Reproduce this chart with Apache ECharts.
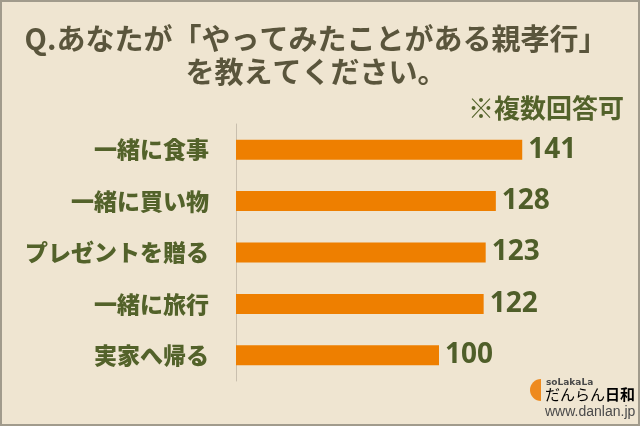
<!DOCTYPE html>
<html><head><meta charset="utf-8">
<script src="https://cdn.jsdelivr.net/npm/echarts@6/dist/echarts.min.js"></script>
<style>html,body{margin:0;padding:0;background:#EFE5D1;}#c{width:640px;height:426px;}</style>
</head><body><div id="c"></div>
<script>
const categories = ['一緒に食事', '一緒に買い物', 'プレゼントを贈る', '一緒に旅行', '実家へ帰る'];
const values = [141, 128, 123, 122, 100];
const titleText = 'Q.あなたが「やってみたことがある親孝行」\nを教えてください。';
const noteText = '※複数回答可';

const JP = '"Noto Sans CJK JP", "Noto Sans", sans-serif';
const chart = echarts.init(document.getElementById('c'), null, {renderer: 'canvas'});
chart.setOption({
  backgroundColor: '#EFE5D1',
  animation: false,
  title: [{
    text: titleText,
    left: 311, top: 17, textAlign: 'center',
    textStyle: {fontFamily: JP, fontSize: 29, fontWeight: 'bold', color: '#5a553c', lineHeight: 33}
  }, {
    text: noteText,
    right: 11, top: 90,
    textStyle: {fontFamily: JP, fontSize: 26, fontWeight: 'bold', color: '#53622a'}
  }],
  grid: {left: 236, top: 124, bottom: 45, width: 304.5},
  xAxis: {type: 'value', min: 0, max: 150, show: false},
  yAxis: {
    type: 'category', data: categories, inverse: true,
    axisLine: {lineStyle: {color: '#c9bfae', width: 1}},
    axisTick: {inside: true, length: 9, lineStyle: {color: '#c9bfae'}},
    axisLabel: {fontFamily: JP, fontSize: 23, fontWeight: 900, color: '#53622a', margin: 27}
  },
  series: [{
    type: 'bar', data: values, barWidth: 20,
    itemStyle: {color: '#EE7F00'},
    label: {show: true, position: 'right', distance: 6,
      fontFamily: '"Noto Sans", sans-serif', fontSize: 28, fontWeight: 'bold', color: '#4f5e29'}
  }],
  graphic: [
    {type: 'rect', shape: {x: 1, y: 1, width: 638, height: 424}, style: {fill: 'none', stroke: '#a19b8c', lineWidth: 2}, silent: true},
    {type: 'sector', shape: {cx: 541, cy: 390, r: 11, startAngle: Math.PI / 2, endAngle: Math.PI * 1.5}, style: {fill: '#EE8A1E'}},
    {type: 'text', left: 546, top: 378, style: {text: 'soLakaLa', font: 'bold 9px "DejaVu Sans", sans-serif', fill: '#4a4a4a'}},
    {type: 'text', left: 545, top: 387, style: {text: '{a|だんらん}{b|日和}', rich: {
      a: {fontFamily: JP, fontSize: 15, color: '#4a4a4a'},
      b: {fontFamily: JP, fontSize: 15, color: '#EE8A1E', fontWeight: 'bold'}}}},
    {type: 'text', left: 545, top: 405, style: {text: 'www.danlan.jp', font: '14px "Liberation Sans", sans-serif', fill: '#4a4a4a'}}
  ]
});
</script></body></html>
